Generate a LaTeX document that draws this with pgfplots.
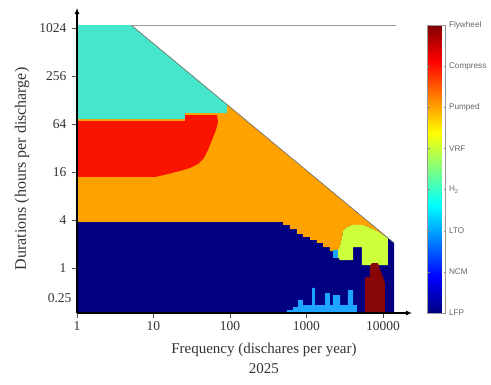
\documentclass[border=0pt]{standalone}
\usepackage{pgfplots}
\pgfplotsset{compat=1.18}
\usepackage{fontspec}
\setmainfont{Liberation Serif}
\newfontfamily\cbfont{Liberation Sans}
\usetikzlibrary{arrows.meta}
\definecolor{cLFP}{RGB}{0,0,128}
\definecolor{cLTO}{RGB}{30,165,255}
\definecolor{cH}{RGB}{70,230,205}
\definecolor{cVRF}{RGB}{205,255,60}
\definecolor{cPump}{RGB}{255,162,0}
\definecolor{cComp}{RGB}{250,20,0}
\definecolor{cFly}{RGB}{135,5,5}
\begin{document}
\begin{tikzpicture}
\path[use as bounding box] (0,0) rectangle (491pt,384pt);
\begin{axis}[
  at={(77pt,71pt)}, anchor=south west,
  scale only axis, width=319pt, height=288pt,
  xmin=0, xmax=4.17, ymin=-1.875, ymax=10.125,
  axis lines=left, axis on top,
  axis line style={line width=1.1pt, black, -{Latex[length=6pt,width=5pt]}},
  x axis line style={shorten >=-16pt},
  y axis line style={shorten >=-17pt},
  xtick={0,1,2,3,4}, xticklabels={1,10,100,1000,10000},
  ytick={0,2,4,6,8,10}, yticklabels={1,4,16,64,256,1024},
  extra y ticks={-1.25}, extra y tick labels={0.25},
  extra y tick style={major tick length=0pt},
  tick align=outside, major tick length=5pt,
  tick style={black!70, line width=0.6pt},
  /pgf/number format/assume math mode=true,
  tick label style={font=\fontsize{13.5}{15}\selectfont, text=black!80},
  yticklabel style={xshift=-2pt},
  xlabel={Frequency (dischares per year)\\2025},
  xlabel style={at={(axis description cs:0.586,0)}, anchor=north, yshift=-27pt, align=center, font=\fontsize{15}{20}\selectfont, text=black!80},
  ylabel={Durations (hours per discharge)},
  ylabel style={at={(axis description cs:-0.172,0.5)}, anchor=center, font=\fontsize{16}{18}\selectfont, text=black!80},
  colormap/jet,
  point meta min=0, point meta max=7,
  colorbar,
  colorbar style={
    at={(parent axis.north east)}, anchor=north west, xshift=23pt,
    width=18pt,
    ytick={0,...,7},
    yticklabels={LFP,NCM,LTO,H\textsubscript{2},VRF,Pumped,Compress,Flywheel},
    yticklabel style={font=\cbfont\fontsize{8.2}{9}\selectfont, text=black!60},
    major tick length=2pt,
    tick style={black!50},
    axis line style={black!40},
  },
]
% LFP background
\addplot[fill=cLFP, draw=none] coordinates {(0,-1.875)(0,10.125)(0.706,10.125)(4.144,1.042)(4.144,-1.875)};
% Pumped hydro
\addplot[fill=cPump, draw=none] coordinates {(0,1.917)(0,10.125)(0.706,10.125)(4.065,1.251)(3.922,1.542)(3.830,1.667)(3.739,1.792)(3.595,1.792)(3.516,1.667)(3.477,1.542)(3.464,1.25)(3.438,0.917)(3.399,0.667)(3.386,0.708)(3.307,0.708)(3.307,0.875)(3.216,0.875)(3.216,1.042)(3.137,1.042)(3.137,1.167)(3.046,1.167)(3.046,1.292)(2.954,1.292)(2.954,1.417)(2.876,1.417)(2.876,1.625)(2.784,1.625)(2.784,1.792)(2.693,1.792)(2.693,1.917)};
% H2
\addplot[fill=cH, draw=none] coordinates {(0,10.125)(0.706,10.125)(1.961,6.809)(1.961,6.458)(1.412,6.458)(1.412,6.2)(0,6.2)};
% Compressed air
\addplot[fill=cComp, draw=none] coordinates {(0,6.125)(1.412,6.125)(1.412,6.375)(1.830,6.375)(1.843,6.083)(1.817,5.75)(1.765,5.333)(1.712,4.917)(1.660,4.583)(1.582,4.333)(1.477,4.167)(1.346,4.042)(1.190,3.917)(1.020,3.792)(0,3.792)};
% VRF
\addplot[fill=cVRF, draw=none] coordinates {(3.399,0.667)(3.438,0.917)(3.464,1.25)(3.477,1.542)(3.516,1.667)(3.595,1.792)(3.739,1.792)(3.830,1.667)(3.922,1.542)(4.065,1.251)(4.065,0.125)(3.725,0.125)(3.725,0.875)(3.608,0.875)(3.608,0.333)(3.438,0.333)(3.399,0.5)};
% LTO
\addplot[fill=cLTO, draw=none] coordinates {(3.346,0.75)(3.412,0.75)(3.412,0.417)(3.346,0.417)};
\addplot[fill=cLTO, draw=none] coordinates {(2.745,-1.875)(2.745,-1.75)(2.824,-1.75)(2.824,-1.625)(2.889,-1.625)(2.889,-1.333)(2.954,-1.333)(2.954,-1.542)(3.072,-1.542)(3.072,-0.833)(3.111,-0.833)(3.111,-1.542)(3.242,-1.542)(3.242,-1.042)(3.307,-1.042)(3.307,-1.542)(3.346,-1.542)(3.346,-1.125)(3.438,-1.125)(3.438,-1.542)(3.542,-1.542)(3.542,-0.917)(3.608,-0.917)(3.608,-1.542)(3.660,-1.542)(3.660,-1.875)};
% Flywheel
\addplot[fill=cFly, draw=none] coordinates {(3.765,-1.875)(3.765,-0.375)(3.830,-0.375)(3.830,0.083)(3.856,0.208)(3.935,0.208)(3.961,-0.083)(4.0,-0.375)(4.026,-0.625)(4.026,-1.875)};
% boundary line
\addplot[draw=black!55, line width=0.6pt] coordinates {(0.706,10.125)(4.144,1.042)};
\draw[black!40, line width=0.8pt] (axis cs:0.706,10.125) -- (axis cs:4.17,10.125) -- (axis cs:4.17,-1.875);
\draw[black!55, line width=0.6pt] ([xshift=-5pt]axis cs:0,-1.875) -- ([xshift=-5pt]axis cs:0,10);
\draw[black!55, line width=0.6pt] ([yshift=-5pt]axis cs:0,-1.875) -- ([yshift=-5pt]axis cs:4,-1.875);
\end{axis}
\end{tikzpicture}
\end{document}
